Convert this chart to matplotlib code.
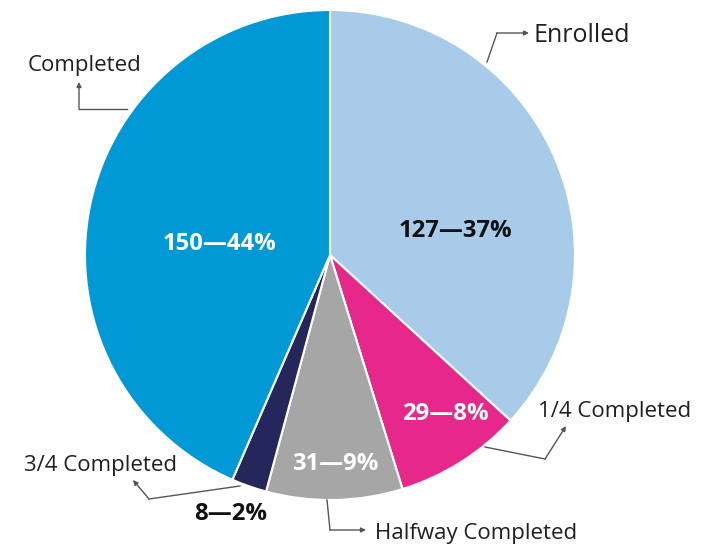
import matplotlib
matplotlib.use("Agg")
import matplotlib.pyplot as plt

categories = ["Enrolled", "1/4 Completed", "Halfway Completed", "3/4 Completed", "Completed"]
values = [127, 29, 31, 8, 150]
percents = [37, 8, 9, 2, 44]
colors = ["#a9cbea", "#e5288a", "#a6a6a6", "#25275c", "#0099d6"]

plt.rcParams['font.family'] = ['Open Sans', 'DejaVu Sans']

W, H = 705, 546
fig = plt.figure(figsize=(W / 100, H / 100), dpi=100)
ax = fig.add_axes([0, 0, 1, 1])

def P(x, y):
    return (x, H - y)

cx, cy = P(330, 255)
ax.pie(values, colors=colors, startangle=90, counterclock=False,
       center=(cx, cy), radius=245, frame=True,
       wedgeprops=dict(edgecolor='white', linewidth=1.5))
ax.set_xlim(0, W)
ax.set_ylim(0, H)
ax.set_aspect('equal')
ax.axis('off')

# value labels
val_pos = [(455, 231), (445, 414), (335, 464), (231, 514), (220, 244)]
val_col = ["#111111", "white", "white", "#111111", "white"]
for v, p, (x, y), c in zip(values, percents, val_pos, val_col):
    ax.text(*P(x, y), f"{v}\u2014{p}%", ha='center', va='center',
            fontsize=17.2, fontweight='bold', color=c)

# category labels with elbow leaders
lc = "#555555"
tc = "#231f20"
label_specs = [
    ("Enrolled", (533, 35), 'left', 18, [(487, 62), (497, 33), (529, 33)]),
    ("1/4 Completed", (538, 412), 'left', 16, [(485, 447), (545, 459), (566, 426)]),
    ("Halfway Completed", (375, 533), 'left', 16, [(327, 500), (330, 530), (366, 530)]),
    ("3/4 Completed", (24, 466), 'left', 16, [(240, 486), (149, 499), (133, 480)]),
    ("Completed", (28, 66), 'left', 16, [(127, 109), (79, 109), (79, 82)]),
]
for text, (tx, ty), ha, fs, pts in label_specs:
    ax.text(*P(tx, ty), text, ha=ha, va='center', fontsize=fs, color=tc)
    xs = [P(*q)[0] for q in pts[:-1]]
    ys = [P(*q)[1] for q in pts[:-1]]
    ax.plot(xs, ys, color=lc, lw=1)
    ax.annotate("", xy=P(*pts[-1]), xytext=P(*pts[-2]),
                arrowprops=dict(arrowstyle='-|>', color=lc, lw=1,
                                mutation_scale=7, shrinkA=0, shrinkB=0))

fig.savefig("out.png", dpi=100, facecolor='white')
